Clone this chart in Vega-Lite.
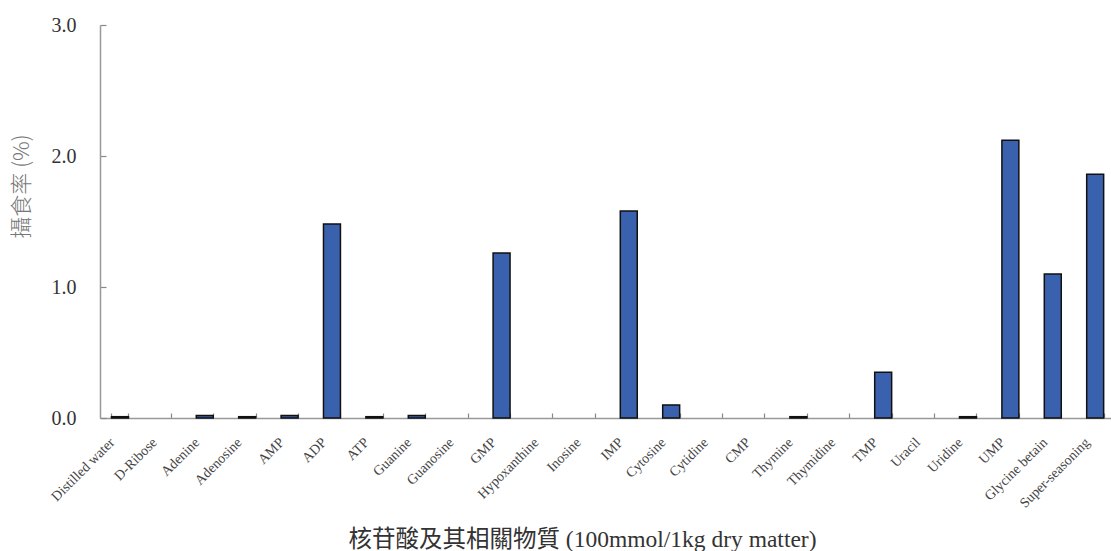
{
  "$schema": "https://vega.github.io/schema/vega-lite/v6.json",
  "autosize": {"type": "none"},
  "width": 1011,
  "height": 393,
  "padding": {"left": 100, "top": 25, "right": 0, "bottom": 133},
  "background": "white",
  "config": {"view": {"stroke": null}},
  "data": {"values": [
    {"item": "Distilled water", "rate": 0.01},
    {"item": "D-Ribose", "rate": 0},
    {"item": "Adenine", "rate": 0.02},
    {"item": "Adenosine", "rate": 0.01},
    {"item": "AMP", "rate": 0.02},
    {"item": "ADP", "rate": 1.48},
    {"item": "ATP", "rate": 0.01},
    {"item": "Guanine", "rate": 0.02},
    {"item": "Guanosine", "rate": 0},
    {"item": "GMP", "rate": 1.26},
    {"item": "Hypoxanthine", "rate": 0},
    {"item": "Inosine", "rate": 0},
    {"item": "IMP", "rate": 1.58},
    {"item": "Cytosine", "rate": 0.1},
    {"item": "Cytidine", "rate": 0},
    {"item": "CMP", "rate": 0},
    {"item": "Thymine", "rate": 0.01},
    {"item": "Thymidine", "rate": 0},
    {"item": "TMP", "rate": 0.35},
    {"item": "Uracil", "rate": 0},
    {"item": "Uridine", "rate": 0.01},
    {"item": "UMP", "rate": 2.12},
    {"item": "Glycine betain", "rate": 1.1},
    {"item": "Super-seasoning", "rate": 1.86}
  ]},
  "mark": {"type": "bar", "fill": "#3a61ad", "stroke": "#111111"},
  "encoding": {
    "strokeWidth": {"condition": {"test": "datum.rate > 0", "value": 1.5}, "value": 0},
    "x": {
      "field": "item", "type": "nominal", "sort": null,
      "scale": {"paddingInner": 0.6, "paddingOuter": 0.222, "align": 0.61},
      "axis": {
        "title": "核苷酸及其相關物質 (100mmol/1kg dry matter)",
        "titleFont": "Liberation Serif, Noto Sans CJK TC",
        "titleFontSize": 23.5, "titleFontWeight": "normal", "titleColor": "#333333",
        "titleX": 482, "titleY": 133, "titleBaseline": "bottom",
        "labelAngle": -45, "labelAlign": "right", "labelBaseline": "middle",
        "labelFont": "Liberation Serif", "labelFontSize": 14, "labelColor": "#444444",
        "labelPadding": 27, "labelOffset": -8,
        "tickBand": "extent", "tickSize": -5, "tickColor": "#888888", "tickWidth": 1.2,
        "domainColor": "#999999", "domainWidth": 1.5
      }
    },
    "y": {
      "field": "rate", "type": "quantitative",
      "scale": {"domain": [0, 3], "nice": false},
      "axis": {
        "title": "攝食率 (%)",
        "titleFont": "Noto Sans CJK TC",
        "titleFontSize": 22, "titleFontWeight": 300, "titleColor": "#777777",
        "titleX": -67, "titleY": 161, "titleAngle": -90,
        "values": [0, 1, 2, 3], "format": ".1f",
        "labelFont": "Liberation Serif", "labelFontSize": 20, "labelColor": "#333333",
        "labelPadding": 30,
        "tickSize": -6, "tickColor": "#888888", "tickWidth": 1.2,
        "domainColor": "#999999", "domainWidth": 1.5,
        "grid": false
      }
    }
  }
}
